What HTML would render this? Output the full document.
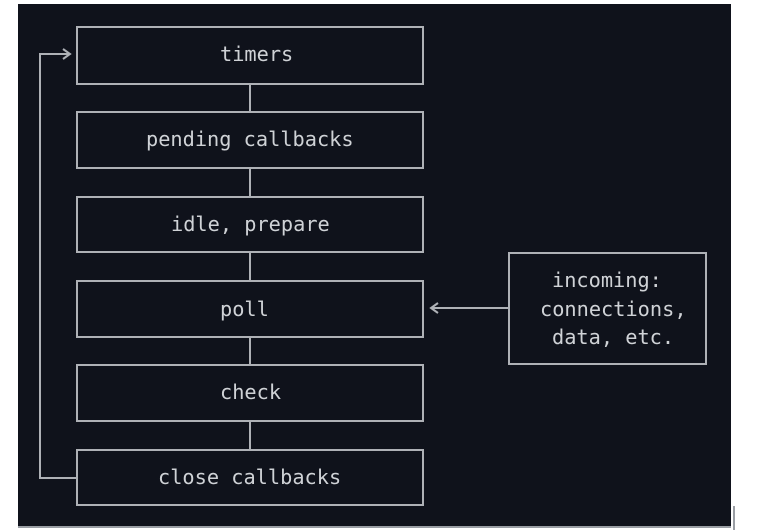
<!DOCTYPE html>
<html><head><meta charset="utf-8"><style>
html,body{margin:0;padding:0;background:#fff;width:774px;height:530px;overflow:hidden}
svg{display:block}
text{font-family:"DejaVu Sans Mono","Liberation Mono",monospace;font-size:20.3px;fill:#cfd2d6}
</style></head><body>
<svg width="774" height="530" viewBox="0 0 774 530">
<rect x="0" y="0" width="774" height="530" fill="#fff"/>
<rect x="18" y="4" width="713" height="522" fill="#0f121b"/>
<rect x="18" y="526" width="713" height="2" fill="#9a9ea4"/>
<rect x="733" y="506" width="2" height="24" fill="#9a9ea4"/>
<g fill="none" stroke="#aeb1b6" stroke-width="2">
<rect x="77" y="27" width="346" height="57"/>
<rect x="77" y="112" width="346" height="56"/>
<rect x="77" y="197" width="346" height="55"/>
<rect x="77" y="281" width="346" height="56"/>
<rect x="77" y="365" width="346" height="56"/>
<rect x="77" y="450" width="346" height="55"/>
<rect x="509" y="253" width="197" height="111"/>
<line x1="250" y1="84" x2="250" y2="112"/>
<line x1="250" y1="168" x2="250" y2="197"/>
<line x1="250" y1="252" x2="250" y2="281"/>
<line x1="250" y1="337" x2="250" y2="365"/>
<line x1="250" y1="421" x2="250" y2="450"/>
<polyline points="77,478 40,478 40,54 70,54"/>
<polyline points="63,49 70,54 63,59"/>
<line x1="509" y1="308" x2="432" y2="308"/>
<polyline points="438,303 431,308 438,313"/>
</g>
<text x="220" y="61">timers</text>
<text x="146" y="146">pending callbacks</text>
<text x="171" y="231">idle, prepare</text>
<text x="220" y="316">poll</text>
<text x="220" y="399">check</text>
<text x="158" y="484">close callbacks</text>
<text x="552" y="287">incoming:</text>
<text x="540" y="316">connections,</text>
<text x="552" y="344">data, etc.</text>
</svg>
</body></html>
